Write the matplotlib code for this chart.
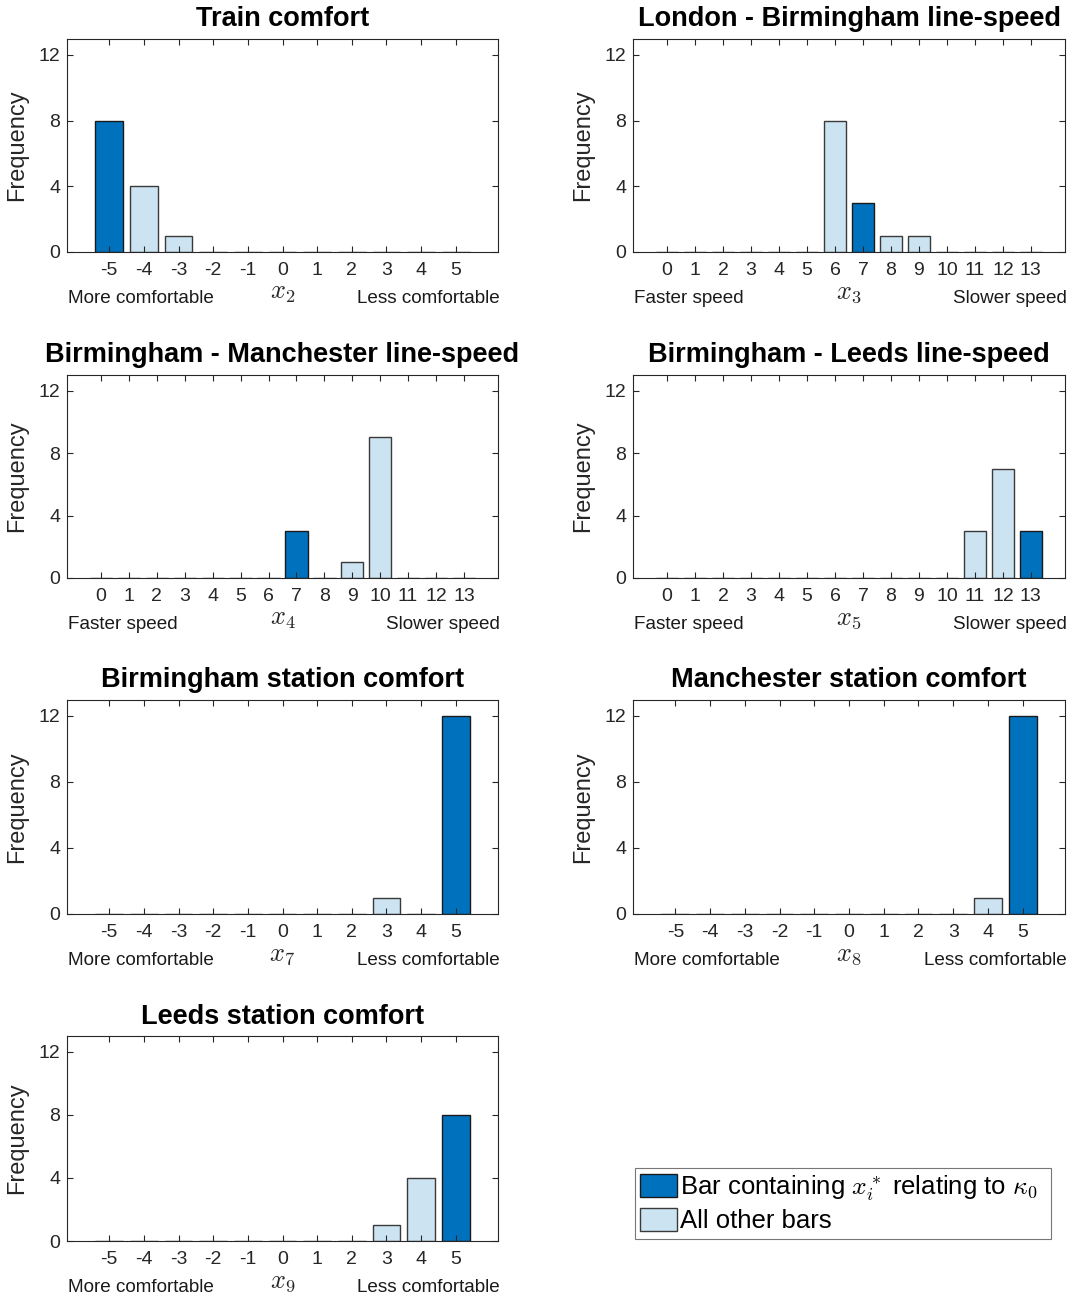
import matplotlib
matplotlib.use("Agg")
import matplotlib.pyplot as plt
from matplotlib.patches import Patch

plt.rcParams['font.family'] = ['Liberation Sans', 'DejaVu Sans']
plt.rcParams['mathtext.fontset'] = 'cm'
plt.rcParams['axes.unicode_minus'] = False

# ---- data ----
comfort_cats = list(range(-5, 6))
speed_cats = list(range(0, 14))

titles = ["Train comfort", "London - Birmingham line-speed",
          "Birmingham - Manchester line-speed", "Birmingham - Leeds line-speed",
          "Birmingham station comfort", "Manchester station comfort",
          "Leeds station comfort"]
var_labels = ["$x_2$", "$x_3$", "$x_4$", "$x_5$", "$x_7$", "$x_8$", "$x_9$"]
kinds = ["comfort", "speed", "speed", "speed", "comfort", "comfort", "comfort"]

freq_x2 = [8, 4, 1, 0, 0, 0, 0, 0, 0, 0, 0]
freq_x3 = [0, 0, 0, 0, 0, 0, 8, 3, 1, 1, 0, 0, 0, 0]
freq_x4 = [0, 0, 0, 0, 0, 0, 0, 3, 0, 1, 9, 0, 0, 0]
freq_x5 = [0, 0, 0, 0, 0, 0, 0, 0, 0, 0, 0, 3, 7, 3]
freq_x7 = [0, 0, 0, 0, 0, 0, 0, 0, 1, 0, 12]
freq_x8 = [0, 0, 0, 0, 0, 0, 0, 0, 0, 1, 12]
freq_x9 = [0, 0, 0, 0, 0, 0, 0, 0, 1, 4, 8]
freqs = [freq_x2, freq_x3, freq_x4, freq_x5, freq_x7, freq_x8, freq_x9]

# category containing x_i* relating to kappa_0
highlight = [-5, 7, 7, 13, 5, 5, 5]

left_right = {"comfort": ("More comfortable", "Less comfortable"),
              "speed": ("Faster speed", "Slower speed")}

dark = '#0072BD'
light = '#CCE3F1'

W, H = 1075, 1296
fig = plt.figure(figsize=(W / 100, H / 100), dpi=100)

col_x = [67, 633]
col_w = [431, 432]
rows = [(38.5, 252), (375, 578), (699.5, 914), (1036, 1241)]

for i in range(7):
    r, c = divmod(i, 2)
    top, bot = rows[r]
    x0 = col_x[c]
    w = col_w[c]
    hpx = bot - top
    ax = fig.add_axes([x0 / W, 1 - bot / H, w / W, hpx / H])
    cats = comfort_cats if kinds[i] == "comfort" else speed_cats
    colors = [dark if cc == highlight[i] else light for cc in cats]
    edges = ['#1a1a1a' if cc == highlight[i] else '#3a3a3a' for cc in cats]
    ax.bar(cats, freqs[i], width=0.8, color=colors, edgecolor=edges, linewidth=1.0)
    ax.set_xlim(cats[0] - 1.22, cats[-1] + 1.22)
    ax.set_ylim(0, 13)
    ax.set_yticks([0, 4, 8, 12])
    ax.set_xticks(cats)
    ax.tick_params(direction='in', top=True, right=True, labelsize=14,
                   colors='#262626', length=4, pad=5)
    ax.tick_params(axis='x', pad=7)
    for s in ax.spines.values():
        s.set_color('#262626')
        s.set_linewidth(0.8)
    ax.set_ylabel("Frequency", fontsize=17, color='#262626', labelpad=7)
    ax.set_title(titles[i], fontsize=19.5, fontweight='bold', pad=9)
    lt, rt = left_right[kinds[i]]
    ytxt = -46.5 / hpx
    ax.text(0.002, ytxt, lt, transform=ax.transAxes, ha='left', va='center',
            fontsize=13.6, color='#1a1a1a')
    ax.text(1.005, ytxt, rt, transform=ax.transAxes, ha='right', va='center',
            fontsize=13.6, color='#1a1a1a')
    ax.text(0.5, -41.0 / hpx, var_labels[i], transform=ax.transAxes, ha='center',
            va='center', fontsize=19, color='#262626')

# legend
lax = fig.add_axes([635 / W, 1 - 1240 / H, 416 / W, 73 / H])
lax.axis('off')
handles = [Patch(facecolor=dark, edgecolor='#1a1a1a'),
           Patch(facecolor=light, edgecolor='#3a3a3a')]
labels = [r"Bar containing $x_i^*$ relating to $\kappa_0$", "All other bars"]
leg = lax.legend(handles, labels, loc='center', fontsize=18.5, frameon=True,
                 fancybox=False, edgecolor='#555555', handlelength=1.45,
                 handleheight=1.0, handletextpad=0.1, borderpad=0.2,
                 borderaxespad=0.0,
                 labelspacing=0.2, mode='expand', bbox_to_anchor=(0, 0, 1, 1))
leg.get_frame().set_linewidth(0.8)

fig.savefig("out.png", dpi=100)
